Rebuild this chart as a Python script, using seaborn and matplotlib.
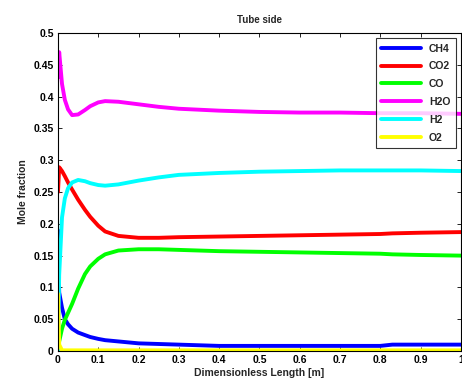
import matplotlib
matplotlib.use("Agg")
import matplotlib.pyplot as plt
import seaborn as sns
import pandas as pd

# Axial positions along the tube (dimensionless)
x = [0, 0.003, 0.01, 0.017, 0.025, 0.035, 0.05, 0.067, 0.08, 0.1, 0.117, 0.15,
     0.2, 0.25, 0.3, 0.4, 0.5, 0.6, 0.7, 0.8, 0.83, 0.9, 1.0]

# Mole fractions of each species
ch4 = [0.19, 0.092, 0.068, 0.05, 0.042, 0.035, 0.029, 0.025, 0.022, 0.019, 0.017, 0.015,
       0.012, 0.011, 0.010, 0.008, 0.008, 0.008, 0.008, 0.008, 0.010, 0.010, 0.010]
co2 = [0.25, 0.289, 0.283, 0.275, 0.265, 0.254, 0.238, 0.222, 0.211, 0.197, 0.188, 0.181,
       0.178, 0.178, 0.179, 0.180, 0.181, 0.182, 0.183, 0.184, 0.185, 0.186, 0.187]
co = [0.0, 0.015, 0.035, 0.049, 0.060, 0.074, 0.098, 0.121, 0.133, 0.145, 0.152, 0.158,
      0.160, 0.160, 0.159, 0.157, 0.156, 0.155, 0.154, 0.153, 0.152, 0.151, 0.150]
h2o = [0.43, 0.47, 0.42, 0.395, 0.38, 0.371, 0.372, 0.379, 0.385, 0.391, 0.393, 0.392,
       0.388, 0.384, 0.381, 0.378, 0.376, 0.375, 0.375, 0.374, 0.374, 0.374, 0.373]
h2 = [0.0, 0.12, 0.21, 0.24, 0.256, 0.265, 0.269, 0.267, 0.264, 0.261, 0.260, 0.262,
      0.268, 0.273, 0.277, 0.280, 0.282, 0.283, 0.284, 0.284, 0.284, 0.284, 0.283]
o2 = [0.09, 0.01, 0.001, 0.001, 0.001, 0.001, 0.001, 0.001, 0.001, 0.001, 0.001, 0.001,
      0.001, 0.001, 0.001, 0.001, 0.001, 0.001, 0.001, 0.001, 0.001, 0.001, 0.001]

species = ["CH4", "CO2", "CO", "H2O", "H2", "O2"]
colors = ["#0000ff", "#ff0000", "#00ff00", "#ff00ff", "#00ffff", "#ffff00"]
series = [ch4, co2, co, h2o, h2, o2]

df = pd.concat(
    [pd.DataFrame({"x": x, "y": s, "species": name}) for name, s in zip(species, series)],
    ignore_index=True,
)

sns.set_theme(style="ticks")
plt.rcParams["font.family"] = ["Liberation Sans", "DejaVu Sans"]
plt.rcParams["font.weight"] = "bold"

fig = plt.figure(figsize=(4.62, 3.83), dpi=100)
ax = fig.add_axes([0.1255, 0.0836, 0.872, 0.830])

sns.lineplot(data=df, x="x", y="y", hue="species", hue_order=species,
             palette=colors, linewidth=2.8, sort=False, estimator=None, ax=ax)

ax.set_xlim(0, 1)
ax.set_ylim(0, 0.5)
ax.set_xticks([i / 10 for i in range(11)])
ax.set_xticklabels(["0", "0.1", "0.2", "0.3", "0.4", "0.5", "0.6", "0.7", "0.8", "0.9", "1"])
ax.set_yticks([i * 0.05 for i in range(11)])
ax.set_yticklabels(["0", "0.05", "0.1", "0.15", "0.2", "0.25", "0.3", "0.35", "0.4", "0.45", "0.5"])
ax.tick_params(direction="in", top=True, right=True, length=3, width=0.6,
               labelsize=7.5, pad=3, colors="black")
for sp in ax.spines.values():
    sp.set_visible(True)
    sp.set_linewidth(0.8)
    sp.set_color("black")

ax.set_title("Tube side", fontsize=7, fontweight="bold", pad=7)
ax.set_xlabel("Dimensionless Length [m]", fontsize=7.5, fontweight="bold", labelpad=2)
ax.set_ylabel("Mole fraction", fontsize=7.5, fontweight="bold", labelpad=4)

handles, labels = ax.get_legend_handles_labels()
leg = ax.legend(handles, labels, loc="upper right", fontsize=7.5, frameon=True,
                fancybox=False, edgecolor="black", handlelength=3.8,
                borderaxespad=0.5, labelspacing=0.75, borderpad=0.5)
leg.get_frame().set_linewidth(0.8)
for ln in leg.get_lines():
    ln.set_linewidth(2.8)

fig.savefig("out.png", dpi=100)
